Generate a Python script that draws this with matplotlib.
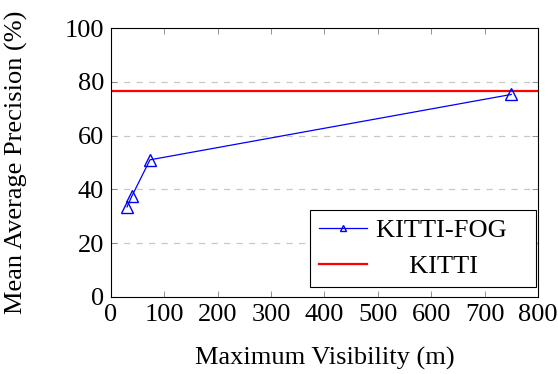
import matplotlib
matplotlib.use("Agg")
import matplotlib.pyplot as plt

visibility = [30, 39, 73, 750]
map_fog = [33.5, 37.5, 51.0, 75.3]
kitti_map = 76.7
xticks = [0, 100, 200, 300, 400, 500, 600, 700, 800]
yticks = [0, 20, 40, 60, 80, 100]

plt.rcParams['font.family'] = ['Liberation Serif', 'DejaVu Serif']
plt.rcParams['mathtext.fontset'] = 'stix'
fs = 19

fig = plt.figure(figsize=(5.58, 3.74), dpi=100)
ax = fig.add_axes([0.199, 0.206, 0.765, 0.719])

for y in [20, 40, 60, 80]:
    ax.axhline(y, color='#c8c8c8', lw=0.9, dashes=(5, 5), zorder=0)

ax.plot(visibility, map_fog, color='blue', lw=0.9, marker='^', markersize=8,
        markerfacecolor='none', markeredgecolor='blue', markeredgewidth=1.0,
        label='KITTI-FOG   ', zorder=3)
ax.axhline(kitti_map, color='red', lw=1.6, label='     KITTI', zorder=2)

ax.set_xlim(0, 800)
ax.set_ylim(0, 100)
ax.set_xticks(xticks)
ax.set_yticks(yticks)
ax.tick_params(direction='in', top=True, right=True, length=4, width=0.6,
               labelsize=fs, colors='#000000', pad=5)
ax.tick_params(axis='both', color='#808080')
for s in ax.spines.values():
    s.set_linewidth(0.8)
ax.set_xlabel('Maximum Visibility (m)', fontsize=fs, labelpad=15)
ax.set_ylabel('Mean Average Precision (%)', fontsize=fs, labelpad=26)

leg = ax.legend(loc='lower right', fontsize=fs, fancybox=False, edgecolor='black',
                framealpha=1, handlelength=1.8, borderpad=0.35, labelspacing=0.45,
                handletextpad=0.35, bbox_to_anchor=(0.995, 0.037), borderaxespad=0,
                markerscale=0.55)
leg.get_frame().set_linewidth(0.8)

fig.savefig('out.png', dpi=100)
